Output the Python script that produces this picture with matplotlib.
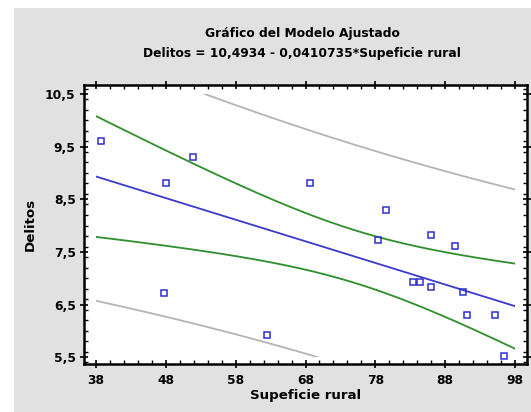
import numpy as np
import matplotlib
matplotlib.use("Agg")
import matplotlib.pyplot as plt
from matplotlib.patches import Rectangle
from matplotlib.ticker import MultipleLocator, FuncFormatter

# Observations: rural surface vs. crimes
superficie = [38.7, 48.1, 51.9, 47.8, 62.5, 68.6, 79.5, 78.4, 85.9, 89.4,
              83.4, 84.4, 85.9, 90.5, 91.1, 95.1, 96.4]
delitos = [9.60, 8.81, 9.30, 6.72, 5.93, 8.81, 8.30, 7.72, 7.82, 7.61,
           6.92, 6.92, 6.83, 6.73, 6.30, 6.30, 5.52]

# Fitted model coefficients
intercepto = 10.4934
pendiente = -0.0410735
t_95 = 2.131  # t(0.975, n-2) for n = 17

x_ticks = [38, 48, 58, 68, 78, 88, 98]
y_ticks = [5.5, 6.5, 7.5, 8.5, 9.5, 10.5]

x = np.asarray(superficie)
y = np.asarray(delitos)
n = len(x)
resid = y - (intercepto + pendiente * x)
s = np.sqrt(np.sum(resid ** 2) / (n - 2))
xbar = x.mean()
sxx = np.sum((x - xbar) ** 2)

xg = np.linspace(x_ticks[0], x_ticks[-1], 300)
fit = intercepto + pendiente * xg
h = 1.0 / n + (xg - xbar) ** 2 / sxx
conf = t_95 * s * np.sqrt(h)
pred = t_95 * s * np.sqrt(1 + h)

plt.rcParams['font.family'] = ['DejaVu Sans']
plt.rcParams['font.weight'] = 'bold'

fig = plt.figure(figsize=(5.31, 4.12), dpi=100)
fig.patch.set_facecolor('white')
W, H = 531, 412
fig.add_artist(Rectangle((14 / W, 0), 1 - 14 / W, 1 - 8 / H,
                         transform=fig.transFigure, facecolor='#e1e1e1',
                         edgecolor='none', zorder=-10))

ax = fig.add_axes([84 / W, 1 - 364 / H, (527 - 84) / W, (364 - 85) / H])
ax.set_facecolor('white')
ax.set_xlim(36.3, 99.7)
ax.set_ylim(5.37, 10.67)

clip = Rectangle((x_ticks[0], y_ticks[0]), x_ticks[-1] - x_ticks[0],
                 y_ticks[-1] - y_ticks[0], transform=ax.transData)

lines = []
lines += ax.plot(xg, fit + pred, color='#b4b4b4', lw=1.3)
lines += ax.plot(xg, fit - pred, color='#b4b4b4', lw=1.3)
lines += ax.plot(xg, fit + conf, color='#2f8f2f', lw=1.3)
lines += ax.plot(xg, fit - conf, color='#2f8f2f', lw=1.3)
lines += ax.plot(xg, fit, color='#3a3acc', lw=1.3)
for ln in lines:
    ln.set_clip_path(clip)

ax.plot(x, y, linestyle='none', marker='s', markersize=4.5,
        markerfacecolor='none', markeredgecolor='#2f2fd0', markeredgewidth=1.1)

ax.set_xticks(x_ticks)
ax.set_yticks(y_ticks)
ax.xaxis.set_minor_locator(MultipleLocator(2))
ax.yaxis.set_minor_locator(MultipleLocator(0.2))
ax.yaxis.set_major_formatter(FuncFormatter(lambda v, p: f"{v:.1f}".replace('.', ',')))
ax.tick_params(which='major', direction='inout', length=6, width=1.2,
               labelsize=8.8, top=True, right=True)
ax.tick_params(axis='x', which='major', pad=4)
ax.tick_params(axis='y', which='major', pad=3)
ax.tick_params(which='minor', direction='in', length=3, width=1.0,
               top=True, right=True)
for sp in ax.spines.values():
    sp.set_linewidth(1.8)

ax.set_xlabel('Supeficie rural', fontsize=9.6, fontweight='bold', labelpad=2)
ax.set_ylabel('Delitos', fontsize=9.6, fontweight='bold', labelpad=6)

fig.text(302 / W, 1 - 33 / H, 'Gráfico del Modelo Ajustado', ha='center',
         va='center', fontsize=8.8, fontweight='bold')
fig.text(302 / W, 1 - 53 / H, 'Delitos = 10,4934 - 0,0410735*Supeficie rural',
         ha='center', va='center', fontsize=8.8, fontweight='bold')

fig.savefig('out.png', dpi=100)
